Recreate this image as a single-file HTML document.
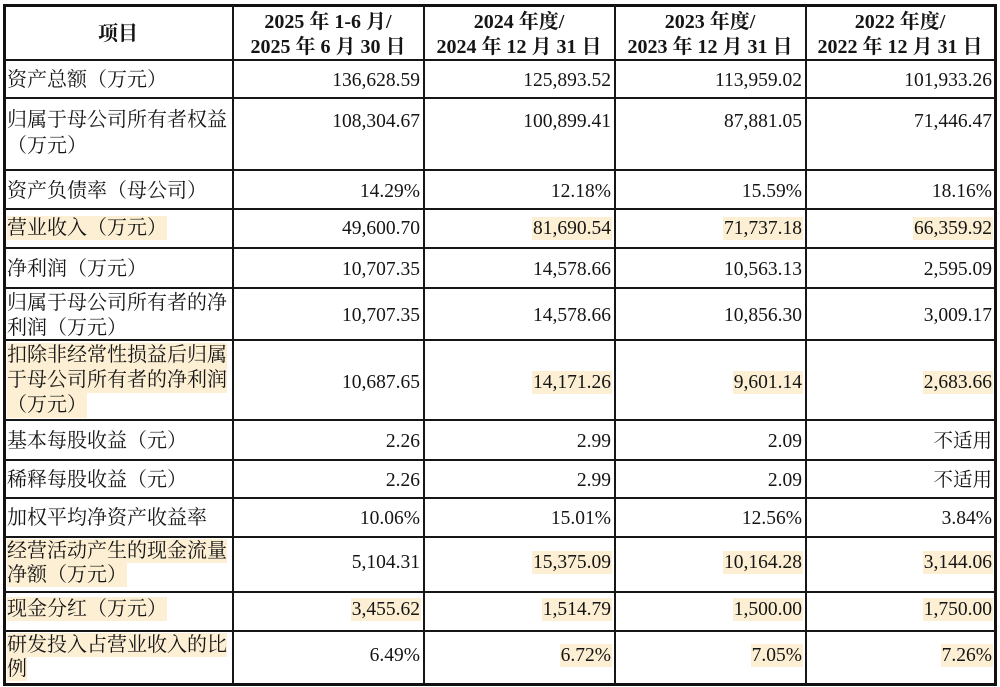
<!DOCTYPE html>
<html><head><meta charset="utf-8">
<style>
html,body{margin:0;padding:0;background:#fff;}
body{width:1000px;height:687px;position:relative;overflow:hidden;font-family:"Liberation Serif","Noto Serif CJK SC",serif;color:#151515;}
.box{position:absolute;left:3px;top:4px;width:994px;height:682px;border:3px solid #111;box-sizing:border-box;}
.v{position:absolute;background:#161616;width:2px;top:5px;height:679px;}
.h{position:absolute;background:#161616;height:2px;left:4px;width:992px;}
.t{position:absolute;left:7px;white-space:nowrap;font-size:20px;line-height:24px;height:24px;}
.t25{line-height:25px;height:25px;}
.n{position:absolute;white-space:nowrap;font-size:19.5px;line-height:23px;height:23px;padding:0 1px;}
.c1{right:579px;}.c2{right:388px;}.c3{right:197px;}.c4{right:7px;}
.hl{background:#fcefd3;}
.hd{position:absolute;white-space:nowrap;font-size:20px;font-weight:bold;line-height:24px;transform:translateX(-50%);}
</style></head><body>
<div class="box"></div>
<div class="v" style="left:232px"></div>
<div class="v" style="left:423px"></div>
<div class="v" style="left:614px"></div>
<div class="v" style="left:805px"></div>
<div class="h" style="top:59px"></div>
<div class="h" style="top:97px"></div>
<div class="h" style="top:169px"></div>
<div class="h" style="top:208px"></div>
<div class="h" style="top:247px"></div>
<div class="h" style="top:287px"></div>
<div class="h" style="top:339px"></div>
<div class="h" style="top:419px"></div>
<div class="h" style="top:459px"></div>
<div class="h" style="top:497px"></div>
<div class="h" style="top:536px"></div>
<div class="h" style="top:591px"></div>
<div class="h" style="top:630px"></div>

<!-- header -->
<div class="hd" style="left:118px;top:22px">项目</div>
<div class="hd" style="left:328px;top:10px">2025 年 1-6 月/</div>
<div class="hd" style="left:328px;top:35px">2025 年 6 月 30 日</div>
<div class="hd" style="left:519px;top:10px">2024 年度/</div>
<div class="hd" style="left:519px;top:35px">2024 年 12 月 31 日</div>
<div class="hd" style="left:710px;top:10px">2023 年度/</div>
<div class="hd" style="left:710px;top:35px">2023 年 12 月 31 日</div>
<div class="hd" style="left:900px;top:10px">2022 年度/</div>
<div class="hd" style="left:900px;top:35px">2022 年 12 月 31 日</div>

<!-- labels -->
<div class="t" style="top:68px">资产总额（万元）</div>
<div class="t" style="top:108px">归属于母公司所有者权益</div>
<div class="t" style="top:134px">（万元）</div>
<div class="t" style="top:179px">资产负债率（母公司）</div>
<div class="t hl" style="top:216px">营业收入（万元）</div>
<div class="t" style="top:257px">净利润（万元）</div>
<div class="t" style="top:291px">归属于母公司所有者的净</div>
<div class="t" style="top:316px">利润（万元）</div>
<div class="t t25 hl" style="top:343px">扣除非经常性损益后归属</div>
<div class="t t25 hl" style="top:368px">于母公司所有者的净利润</div>
<div class="t t25 hl" style="top:393px">（万元）</div>
<div class="t" style="top:429px">基本每股收益（元）</div>
<div class="t" style="top:468px">稀释每股收益（元）</div>
<div class="t" style="top:506px">加权平均净资产收益率</div>
<div class="t hl" style="top:539px">经营活动产生的现金流量</div>
<div class="t hl" style="top:563px">净额（万元）</div>
<div class="t hl" style="top:597px">现金分红（万元）</div>
<div class="t hl" style="top:633px">研发投入占营业收入的比</div>
<div class="t hl" style="top:657px">例</div>

<!-- row1 -->
<div class="n c1" style="top:68.5px">136,628.59</div>
<div class="n c2" style="top:68.5px">125,893.52</div>
<div class="n c3" style="top:68.5px">113,959.02</div>
<div class="n c4" style="top:68.5px">101,933.26</div>
<!-- row2 -->
<div class="n c1" style="top:109.5px">108,304.67</div>
<div class="n c2" style="top:109.5px">100,899.41</div>
<div class="n c3" style="top:109.5px">87,881.05</div>
<div class="n c4" style="top:109.5px">71,446.47</div>
<!-- row3 -->
<div class="n c1" style="top:179.5px">14.29%</div>
<div class="n c2" style="top:179.5px">12.18%</div>
<div class="n c3" style="top:179.5px">15.59%</div>
<div class="n c4" style="top:179.5px">18.16%</div>
<!-- row4 -->
<div class="n c1" style="top:216.5px">49,600.70</div>
<div class="n c2 hl" style="top:216.5px">81,690.54</div>
<div class="n c3 hl" style="top:216.5px">71,737.18</div>
<div class="n c4 hl" style="top:216.5px">66,359.92</div>
<!-- row5 -->
<div class="n c1" style="top:257.5px">10,707.35</div>
<div class="n c2" style="top:257.5px">14,578.66</div>
<div class="n c3" style="top:257.5px">10,563.13</div>
<div class="n c4" style="top:257.5px">2,595.09</div>
<!-- row6 -->
<div class="n c1" style="top:304px">10,707.35</div>
<div class="n c2" style="top:304px">14,578.66</div>
<div class="n c3" style="top:304px">10,856.30</div>
<div class="n c4" style="top:304px">3,009.17</div>
<!-- row7 -->
<div class="n c1" style="top:371px">10,687.65</div>
<div class="n c2 hl" style="top:371px">14,171.26</div>
<div class="n c3 hl" style="top:371px">9,601.14</div>
<div class="n c4 hl" style="top:371px">2,683.66</div>
<!-- row8 -->
<div class="n c1" style="top:429.5px">2.26</div>
<div class="n c2" style="top:429.5px">2.99</div>
<div class="n c3" style="top:429.5px">2.09</div>
<div class="n c4" style="top:429.5px">不适用</div>
<!-- row9 -->
<div class="n c1" style="top:468.5px">2.26</div>
<div class="n c2" style="top:468.5px">2.99</div>
<div class="n c3" style="top:468.5px">2.09</div>
<div class="n c4" style="top:468.5px">不适用</div>
<!-- row10 -->
<div class="n c1" style="top:506.5px">10.06%</div>
<div class="n c2" style="top:506.5px">15.01%</div>
<div class="n c3" style="top:506.5px">12.56%</div>
<div class="n c4" style="top:506.5px">3.84%</div>
<!-- row11 -->
<div class="n c1" style="top:550.5px">5,104.31</div>
<div class="n c2 hl" style="top:550.5px">15,375.09</div>
<div class="n c3 hl" style="top:550.5px">10,164.28</div>
<div class="n c4 hl" style="top:550.5px">3,144.06</div>
<!-- row12 -->
<div class="n c1 hl" style="top:597.5px">3,455.62</div>
<div class="n c2 hl" style="top:597.5px">1,514.79</div>
<div class="n c3 hl" style="top:597.5px">1,500.00</div>
<div class="n c4 hl" style="top:597.5px">1,750.00</div>
<!-- row13 -->
<div class="n c1" style="top:643.5px">6.49%</div>
<div class="n c2 hl" style="top:643.5px">6.72%</div>
<div class="n c3 hl" style="top:643.5px">7.05%</div>
<div class="n c4 hl" style="top:643.5px">7.26%</div>
</body></html>
